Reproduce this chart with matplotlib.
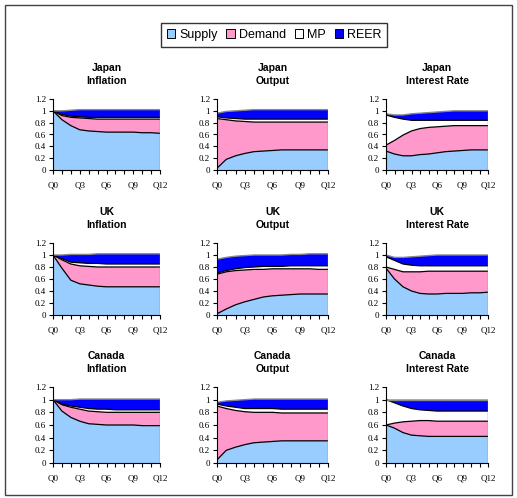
import numpy as np
import matplotlib
matplotlib.use("Agg")
import matplotlib.pyplot as plt
from matplotlib.patches import Patch, Rectangle

quarters = list(range(13))
tick_labels = ["Q0", "Q3", "Q6", "Q9", "Q12"]
shocks = ["Supply", "Demand", "MP", "REER"]
colors = ["#99CCFF", "#FF99CC", "#FFFFFF", "#0000FF"]

# shares of each shock, Q0..Q12
jp_inf_supply = [1.0, .85, .75, .68, .66, .65, .64, .64, .64, .64, .63, .63, .62]
jp_inf_demand = [0, .07, .14, .20, .21, .21, .22, .22, .22, .22, .23, .23, .24]
jp_inf_mp = [0, .02, .02, .02, .02, .03, .03, .03, .03, .03, .03, .03, .03]
jp_inf_reer = [0, .06, .10, .12, .13, .13, .13, .13, .13, .13, .13, .13, .13]

jp_out_supply = [.03, .18, .24, .28, .31, .32, .33, .34, .34, .34, .34, .34, .34]
jp_out_demand = [.84, .67, .59, .54, .50, .49, .48, .47, .47, .47, .47, .47, .47]
jp_out_mp = [.03, .03, .04, .04, .05, .05, .05, .05, .05, .05, .05, .05, .05]
jp_out_reer = [.06, .11, .13, .15, .16, .16, .16, .16, .16, .16, .16, .16, .16]

jp_int_supply = [.32, .27, .24, .24, .26, .27, .29, .31, .32, .33, .34, .34, .34]
jp_int_demand = [.10, .23, .35, .42, .44, .45, .44, .43, .43, .42, .41, .41, .41]
jp_int_mp = [.51, .39, .27, .18, .14, .12, .11, .10, .09, .09, .09, .09, .09]
jp_int_reer = [.02, .04, .07, .11, .12, .13, .14, .15, .16, .16, .16, .16, .16]

uk_inf_supply = [1.0, .78, .58, .52, .50, .48, .47, .47, .47, .47, .47, .47, .47]
uk_inf_demand = [0, .14, .27, .30, .31, .32, .33, .33, .33, .33, .33, .33, .33]
uk_inf_mp = [0, .02, .03, .05, .05, .06, .05, .05, .05, .05, .05, .05, .05]
uk_inf_reer = [0, .06, .13, .14, .15, .16, .17, .17, .17, .17, .17, .17, .17]

uk_out_supply = [.02, .10, .17, .22, .26, .30, .32, .33, .34, .35, .35, .35, .35]
uk_out_demand = [.66, .62, .57, .53, .50, .46, .45, .44, .43, .42, .42, .41, .41]
uk_out_mp = [.02, .02, .03, .04, .04, .05, .04, .04, .05, .05, .05, .06, .06]
uk_out_reer = [.23, .22, .21, .20, .20, .19, .19, .19, .19, .19, .20, .20, .20]

uk_int_supply = [.78, .60, .47, .40, .36, .35, .35, .36, .36, .36, .37, .37, .38]
uk_int_demand = [.02, .16, .25, .32, .36, .38, .38, .37, .37, .37, .36, .36, .35]
uk_int_mp = [.17, .15, .13, .11, .10, .09, .09, .09, .09, .09, .09, .09, .09]
uk_int_reer = [.03, .05, .11, .14, .16, .17, .18, .18, .18, .18, .18, .18, .18]

ca_inf_supply = [1.0, .82, .72, .66, .62, .61, .60, .60, .60, .60, .59, .59, .59]
ca_inf_demand = [0, .10, .16, .19, .20, .20, .20, .20, .20, .20, .21, .21, .21]
ca_inf_mp = [0, .01, .02, .03, .04, .04, .05, .04, .04, .04, .04, .04, .04]
ca_inf_reer = [0, .07, .10, .13, .15, .16, .16, .17, .17, .17, .17, .17, .17]

ca_out_supply = [.05, .20, .25, .29, .32, .33, .34, .35, .35, .35, .35, .35, .35]
ca_out_demand = [.85, .66, .58, .52, .48, .47, .46, .44, .44, .44, .44, .44, .44]
ca_out_mp = [.03, .04, .05, .05, .06, .06, .06, .06, .06, .06, .06, .06, .06]
ca_out_reer = [.03, .08, .11, .14, .15, .15, .15, .16, .16, .16, .16, .16, .16]

ca_int_supply = [.60, .55, .48, .44, .43, .42, .42, .42, .42, .42, .42, .42, .42]
ca_int_demand = [0, .08, .17, .22, .24, .25, .24, .24, .24, .24, .24, .24, .24]
ca_int_mp = [.40, .32, .25, .20, .17, .16, .16, .16, .16, .16, .16, .16, .16]
ca_int_reer = [0, .05, .10, .14, .16, .17, .18, .18, .18, .18, .18, .18, .18]

panels = [
    ("Japan\nInflation", [jp_inf_supply, jp_inf_demand, jp_inf_mp, jp_inf_reer]),
    ("Japan\nOutput", [jp_out_supply, jp_out_demand, jp_out_mp, jp_out_reer]),
    ("Japan\nInterest Rate", [jp_int_supply, jp_int_demand, jp_int_mp, jp_int_reer]),
    ("UK\nInflation", [uk_inf_supply, uk_inf_demand, uk_inf_mp, uk_inf_reer]),
    ("UK\nOutput", [uk_out_supply, uk_out_demand, uk_out_mp, uk_out_reer]),
    ("UK\nInterest Rate", [uk_int_supply, uk_int_demand, uk_int_mp, uk_int_reer]),
    ("Canada\nInflation", [ca_inf_supply, ca_inf_demand, ca_inf_mp, ca_inf_reer]),
    ("Canada\nOutput", [ca_out_supply, ca_out_demand, ca_out_mp, ca_out_reer]),
    ("Canada\nInterest Rate", [ca_int_supply, ca_int_demand, ca_int_mp, ca_int_reer]),
]

fig = plt.figure(figsize=(5.17, 4.98), dpi=100)

# outer frame
fig.patches.append(Rectangle((5 / 517, 3 / 498), 507 / 517, 490 / 498, transform=fig.transFigure,
                             fill=False, edgecolor="#444444", linewidth=1.0))

col_left = [53, 217, 386]
col_width = [107, 111, 102]
row_bottom = [170, 315, 463]
row_height = [71, 72, 76]

for i, (title, shares) in enumerate(panels):
    r, c = divmod(i, 3)
    ax = fig.add_axes([col_left[c] / 517, 1 - row_bottom[r] / 498,
                       col_width[c] / 517, row_height[r] / 498])
    ax.stackplot(quarters, shares, colors=colors, linewidth=0)
    tops = np.cumsum(np.array(shares), axis=0)
    for k in range(3):
        ax.plot(quarters, tops[k], color="black", linewidth=0.9)
    ax.plot(quarters, tops[3], color="#888888", linewidth=1.0)
    ax.plot([12, 12], [0, tops[3][-1]], color="#888888", linewidth=1.0)

    ax.set_xlim(0, 12)
    ax.set_ylim(0, 1.2)
    ax.set_xticks(quarters)
    ax.set_xticklabels([f"Q{q}" if q % 3 == 0 else "" for q in quarters])
    ax.set_yticks([0, 0.2, 0.4, 0.6, 0.8, 1.0, 1.2])
    ax.set_yticklabels(["0", "0.2", "0.4", "0.6", "0.8", "1", "1.2"])
    ax.tick_params(labelsize=6.5, length=3, width=0.8, pad=2)
    for lab in ax.get_xticklabels() + ax.get_yticklabels():
        lab.set_family("Liberation Serif")
    ax.tick_params(axis="x", pad=5)
    for s in ["top", "right"]:
        ax.spines[s].set_visible(False)
    ax.set_title(title, fontsize=7.5, fontweight="bold", family="Liberation Sans",
                 pad=11, linespacing=1.35)

handles = [Patch(facecolor=col, edgecolor="black", linewidth=0.7) for col in colors]
fig.legend(handles, shocks, loc="center", bbox_to_anchor=(274 / 517, 1 - 35 / 498),
           ncol=4, frameon=True, fancybox=False, edgecolor="black",
           prop={"family": "Liberation Sans", "size": 9},
           handlelength=0.7, handleheight=0.7, handletextpad=0.3, columnspacing=0.7,
           borderpad=0.45, borderaxespad=0)

fig.savefig("out.png", dpi=100)
